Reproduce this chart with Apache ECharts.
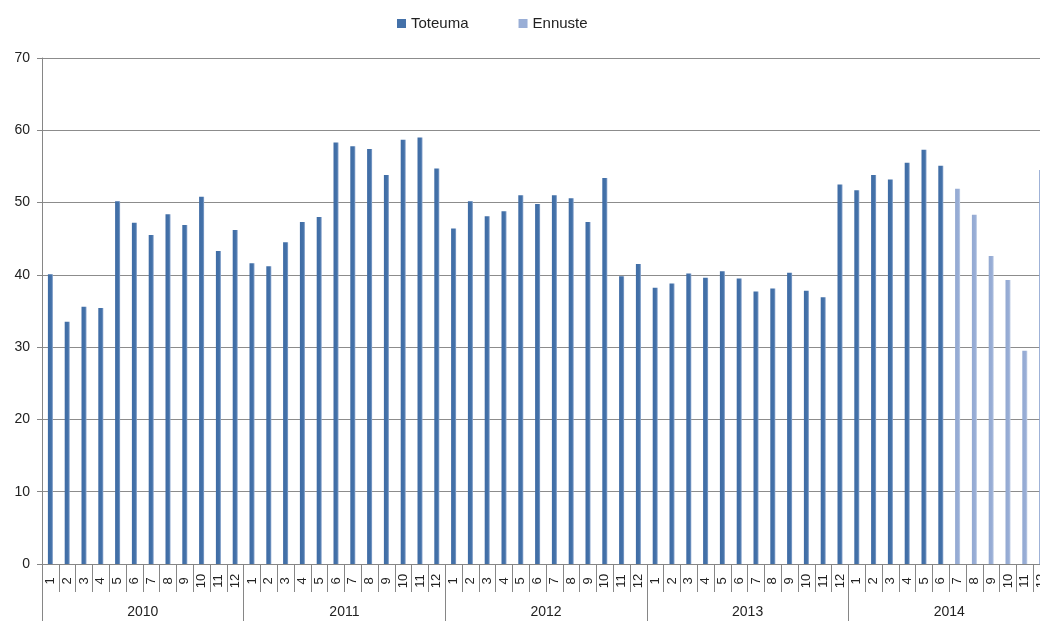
<!DOCTYPE html>
<html>
<head>
<meta charset="utf-8">
<script src="https://cdn.jsdelivr.net/npm/echarts@6/dist/echarts.min.js"></script>
<style>
html,body{margin:0;padding:0;background:#fff;overflow:hidden;width:1040px;height:621px;}
#c{width:1050px;height:621px;}
</style>
</head>
<body>
<div id="c"></div>
<script>
var years = ['2010', '2011', '2012', '2013', '2014'];
var months = ['1','2','3','4','5','6','7','8','9','10','11','12'];
var yTicks = [0, 10, 20, 30, 40, 50, 60, 70];

// Toteuma: 2010/1 .. 2014/6
var toteuma2010 = [40.1, 33.5, 35.6, 35.4, 50.2, 47.2, 45.5, 48.4, 46.9, 50.8, 43.3, 46.2];
var toteuma2011 = [41.6, 41.2, 44.5, 47.3, 48.0, 58.3, 57.8, 57.4, 53.8, 58.7, 59.0, 54.7];
var toteuma2012 = [46.4, 50.2, 48.1, 48.8, 51.0, 49.8, 51.0, 50.6, 47.3, 53.4, 39.8, 41.5];
var toteuma2013 = [38.2, 38.8, 40.2, 39.6, 40.5, 39.5, 37.7, 38.1, 40.3, 37.8, 36.9, 52.5];
var toteuma2014 = [51.7, 53.8, 53.2, 55.5, 57.3, 55.1];
// Ennuste: 2014/7 .. 2014/12
var ennuste2014 = [51.9, 48.3, 42.6, 39.3, 29.5, 54.5];

var categories = [];
years.forEach(function (y) { months.forEach(function (m) { categories.push(y + '-' + m); }); });

var toteuma = [].concat(toteuma2010, toteuma2011, toteuma2012, toteuma2013, toteuma2014);
var toteumaData = categories.map(function (c, i) { return i < toteuma.length ? toteuma[i] : null; });
var ennusteStart = categories.length - ennuste2014.length;
var ennusteData = categories.map(function (c, i) { return i >= ennusteStart ? ennuste2014[i - ennusteStart] : null; });

var FONT = '"Liberation Sans", Arial, sans-serif';
var AX = '#868686';

function barGrad(c1, c2, c3) {
  return new echarts.graphic.LinearGradient(0, 0, 1, 0, [
    {offset: 0, color: c1}, {offset: 0.7, color: c2}, {offset: 1, color: c3}
  ]);
}

var chart = echarts.init(document.getElementById('c'), null, {renderer: 'canvas'});
chart.setOption({
  animation: false,
  backgroundColor: '#ffffff',
  textStyle: {fontFamily: FONT},
  legend: {
    left: 392, top: 11,
    itemWidth: 9, itemHeight: 9, itemGap: 50,
    icon: 'rect',
    textStyle: {fontSize: 15, color: '#222', fontFamily: FONT},
    data: [
      {name: 'Toteuma', itemStyle: {color: '#4471a9'}},
      {name: 'Ennuste', itemStyle: {color: '#99aed6'}}
    ]
  },
  grid: {left: 42, top: 58, width: 1008, height: 506, containLabel: false},
  xAxis: [{
    type: 'category',
    data: categories,
    position: 'bottom',
    axisLine: {show: true, lineStyle: {color: AX, width: 1}},
    axisTick: {show: true, interval: 0, length: 28, lineStyle: {color: AX}},
    axisLabel: {
      interval: 0, rotate: 90, align: 'center', margin: 17,
      fontSize: 13, color: '#222', fontFamily: FONT,
      formatter: function (v) { return v.split('-')[1]; }
    }
  }, {
    type: 'category',
    data: years,
    position: 'bottom',
    axisLine: {show: false},
    axisTick: {show: true, interval: 0, length: 57, lineStyle: {color: AX}},
    axisLabel: {interval: 0, margin: 41, fontSize: 14, color: '#222', fontFamily: FONT}
  }],
  yAxis: {
    type: 'value',
    min: yTicks[0], max: yTicks[yTicks.length - 1], interval: 10,
    axisLine: {show: true, lineStyle: {color: AX, width: 1}},
    axisTick: {show: true, length: 5, lineStyle: {color: AX}},
    axisLabel: {margin: 12, fontSize: 14, color: '#222', fontFamily: FONT},
    splitLine: {show: true, lineStyle: {color: '#8c8c8c', width: 1}}
  },
  series: [{
    name: 'Toteuma',
    type: 'bar',
    xAxisIndex: 0,
    data: toteumaData,
    barWidth: 5,
    barGap: '-100%',
    itemStyle: {color: barGrad('#3f6ca5', '#4472a9', '#8ea8cf')}
  }, {
    name: 'Ennuste',
    type: 'bar',
    xAxisIndex: 0,
    data: ennusteData,
    barWidth: 5,
    barGap: '-100%',
    itemStyle: {color: barGrad('#93a9d2', '#99aed6', '#c5d2e8')}
  }]
});
</script>
</body>
</html>
